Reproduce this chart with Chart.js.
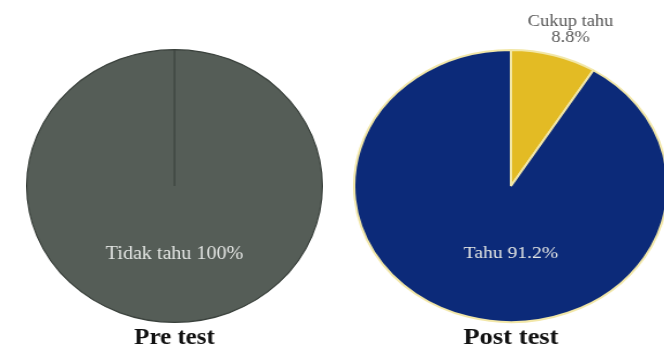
<!DOCTYPE html>
<html>
<head>
<meta charset="utf-8">
<script src="https://cdn.jsdelivr.net/npm/chart.js@4.4.0/dist/chart.umd.min.js"></script>
<style>
  html, body { margin: 0; padding: 0; background: #ffffff; overflow: hidden; }
  body { width: 664px; height: 351px; position: relative; }
  .wrap { position: absolute; top: 0; width: 274px; height: 351px; transform-origin: 0 0; }
  #preWrap { left: 26px; transform: scaleX(1.084); }
  #postWrap { left: 352.7px; transform: scaleX(1.153); }
</style>
</head>
<body>
<div class="wrap" id="preWrap"><canvas id="preChart" width="274" height="351"></canvas></div>
<div class="wrap" id="postWrap"><canvas id="postChart" width="274" height="351"></canvas></div>
<script>
// Data
const preLabels = ['Tidak tahu'];
const preValues = [100];
const postLabels = ['Cukup tahu', 'Tahu'];
const postValues = [8.8, 91.2];
const chartTitles = ['Pre test', 'Post test'];

const serif = '"Liberation Serif", "DejaVu Serif", serif';

// Draws slice labels and the title under each pie
const pieText = {
    id: 'pieText',
    afterDraw(chart, args, opts) {
        const ctx = chart.ctx;
        const arcs = chart.getDatasetMeta(0).data;
        const values = chart.data.datasets[0].data;
        const labels = chart.data.labels;
        ctx.save();
        ctx.textAlign = 'center';
        arcs.forEach((arc, i) => {
            const r = arc.outerRadius;
            const pct = values[i] + '%';
            if (opts.outside[i]) {
                const mid = (arc.startAngle + arc.endAngle) / 2;
                const x = arc.x + Math.cos(mid) * r * 1.15 + 9;
                const y = arc.y + Math.sin(mid) * r * 1.19;
                ctx.fillStyle = '#555555';
                ctx.font = '16px ' + serif;
                ctx.textBaseline = 'alphabetic';
                ctx.fillText(labels[i], x, y - 4);
                ctx.fillText(pct, x, y + 12);
            } else {
                ctx.fillStyle = '#e4e6e4';
                ctx.font = opts.labelSize + 'px ' + serif;
                ctx.textBaseline = 'middle';
                ctx.fillText(labels[i] + ' ' + pct, arc.x, arc.y + r * 0.5);
            }
        });
        ctx.fillStyle = '#111111';
        ctx.font = 'bold 23px ' + serif;
        ctx.textBaseline = 'alphabetic';
        ctx.fillText(opts.title, chart.chartArea.left + chart.chartArea.width / 2, 344);
        ctx.restore();
    }
};

function makePie(id, labels, values, colors, border, borderWidth, title, outside, labelSize) {
    return new Chart(document.getElementById(id), {
        type: 'pie',
        data: {
            labels: labels,
            datasets: [{
                data: values,
                backgroundColor: colors,
                borderColor: border,
                borderWidth: borderWidth
            }]
        },
        options: {
            responsive: false,
            animation: false,
            rotation: 0,
            layout: { padding: { top: 49, bottom: 28, left: 0, right: 0 } },
            plugins: {
                legend: { display: false },
                tooltip: { enabled: false },
                pieText: { title: title, outside: outside, labelSize: labelSize }
            }
        },
        plugins: [pieText]
    });
}

makePie('preChart', preLabels, preValues, ['#555d57'], '#3a413c', 1.2, chartTitles[0], [false], 18.5);
makePie('postChart', postLabels, postValues, ['#e3bb24', '#0c2a79'], '#f2e7a8', 2, chartTitles[1], [true, false], 17);
</script>
</body>
</html>
